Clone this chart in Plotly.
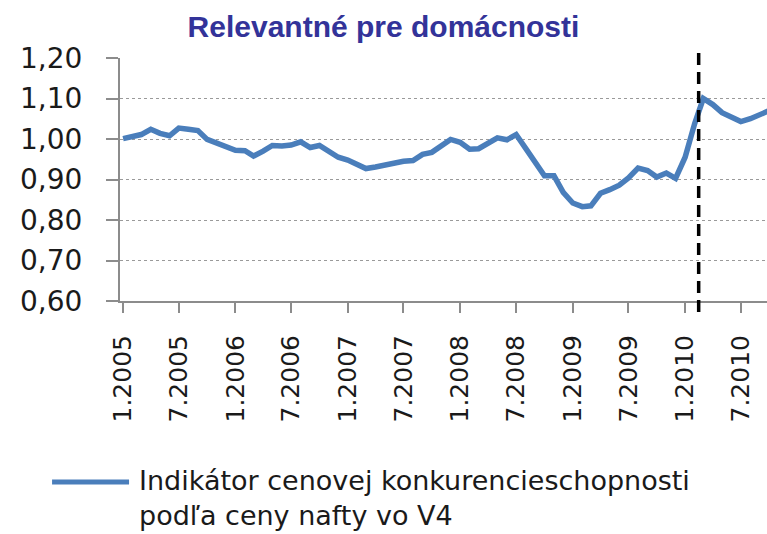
"""
Indikátor cenovej konkurencieschopnosti (podľa ceny nafty vo V4), 1.2005 - 9.2010.
"""

import pandas as pd
import plotly.graph_objects as go

# monthly observations, Jan 2005 .. Oct 2010
START_MONTH = "2005-01-01"
INDICATOR = [
    1.001, 1.006, 1.011, 1.024, 1.014, 1.008, 1.027, 1.024, 1.021, 0.999,
    0.989, 0.980, 0.972, 0.971, 0.958, 0.970, 0.984, 0.983, 0.985, 0.993,
    0.979, 0.984, 0.970, 0.955, 0.948, 0.937, 0.927, 0.931, 0.936, 0.938,
    0.945, 0.947, 0.962, 0.967, 0.982, 0.999, 0.992, 0.975, 0.976, 0.990,
    1.003, 0.998, 1.011, 0.977, 0.940, 0.909, 0.909, 0.868, 0.842, 0.833,
    0.835, 0.866, 0.875, 0.886, 0.904, 0.928, 0.922, 0.906, 0.916, 0.903,
    0.955, 1.038, 1.100, 1.085, 1.065, 1.052, 1.043, 1.050, 1.060, 1.070,
]
Y_TICKS = [0.60, 0.70, 0.80, 0.90, 1.00, 1.10, 1.20]
BREAK_DATE = "2010-02-14"  # dashed marker

TITLE = "Relevantné pre domácnosti"
SERIES_NAME = "Indikátor cenovej konkurencieschopnosti<br>podľa ceny nafty vo V4"

months = pd.date_range(START_MONTH, periods=len(INDICATOR), freq="MS")

LINE_BLUE = "#4a7ebb"
AXIS_GREY = "#8c8c8c"

fig = go.Figure()
fig.add_trace(
    go.Scatter(
        x=months,
        y=INDICATOR,
        mode="lines",
        line=dict(color=LINE_BLUE, width=5.5),
        showlegend=False,
    )
)

# vertical dashed line, runs a bit past the plot area like the original
fig.add_shape(
    type="line",
    xref="x",
    yref="paper",
    x0=BREAK_DATE,
    x1=BREAK_DATE,
    y0=-0.045,
    y1=1.035,
    line=dict(color="black", width=3.5, dash="12px,7px"),
    layer="above",
)

# hand-made legend: long swatch + two-line label
fig.add_shape(
    type="line",
    xref="paper",
    yref="paper",
    x0=-0.105,
    x1=0.014,
    y0=-0.745,
    y1=-0.745,
    line=dict(color=LINE_BLUE, width=5),
)
fig.add_annotation(
    text=SERIES_NAME,
    xref="paper",
    yref="paper",
    x=0.026,
    y=-0.812,
    xanchor="left",
    yanchor="middle",
    align="left",
    showarrow=False,
    font=dict(family="DejaVu Sans", size=27, color="#1a1a1a"),
)

fig.update_layout(
    width=767,
    height=534,
    margin=dict(l=120, r=0, t=58, b=233),
    paper_bgcolor="white",
    plot_bgcolor="white",
    separators=", ",
    title=dict(
        text=TITLE,
        xref="container",
        x=0.5,
        xanchor="center",
        yref="container",
        y=0.951,
        yanchor="middle",
        font=dict(family="Liberation Sans", size=30, weight=700, color="#333399"),
    ),
    xaxis=dict(
        range=["2004-12-22", "2010-09-24"],
        dtick="M6",
        tick0=START_MONTH,
        tickformat="%-m.%Y",
        tickangle=-90,
        ticks="outside",
        ticklen=10,
        tickwidth=1.5,
        tickcolor=AXIS_GREY,
        ticklabelstandoff=12,
        showline=True,
        linecolor=AXIS_GREY,
        linewidth=2,
        showgrid=False,
        zeroline=False,
        tickfont=dict(family="DejaVu Sans", size=25, color="#1a1a1a"),
    ),
    yaxis=dict(
        range=[0.60, 1.20],
        tickvals=Y_TICKS,
        tickformat=".2f",
        ticks="outside",
        ticklen=12,
        tickwidth=1.5,
        tickcolor=AXIS_GREY,
        ticklabelstandoff=18,
        showline=True,
        linecolor=AXIS_GREY,
        linewidth=2,
        showgrid=True,
        gridcolor="#9a9a9a",
        gridwidth=1,
        griddash="dot",
        zeroline=False,
        tickfont=dict(family="DejaVu Sans", size=28, color="#1a1a1a"),
    ),
)

# drop the default 8px body margin so the figure sits flush in the window
fig.write_html(
    "out.html",
    config={"displayModeBar": False},
    post_script="document.body.style.margin='0';",
)
